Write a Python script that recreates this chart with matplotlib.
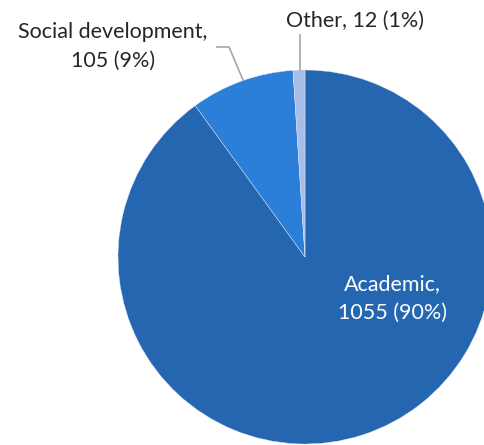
import matplotlib.pyplot as plt

# ---- data ----
categories = ['Academic', 'Social development', 'Other']
counts = [1055, 105, 12]
colors = ['#2466b0', '#2b7fd8', '#a9bee7']

total = sum(counts)
labels = ['%s, %d (%d%%)' % (c, v, round(100.0 * v / total)) for c, v in zip(categories, counts)]

fig = plt.figure(figsize=(4.84, 4.45), dpi=100)
ax = fig.add_axes([0, 0, 1, 1])

# ---- pie (pixel-like coords, y up) ----
ax.pie(counts, colors=colors, startangle=90, counterclock=False,
       center=(305, 188), radius=187,
       wedgeprops=dict(edgecolor='#dfe8f5', linewidth=0.3))
ax.set_xlim(0, 484)
ax.set_ylim(0, 445)
ax.set_aspect('equal')
ax.axis('off')

fnt = dict(family='Lato', fontsize=15.5)

# academic label inside the slice
name, rest = labels[0].split(', ')
ax.text(392, 147, name + ',\n' + rest, color='white', ha='center', va='center',
        linespacing=1.55, **fnt)

# social development label + leader line
name, rest = labels[1].split(', ')
ax.text(113, 399, name + ',\n' + rest, color='#262626', ha='center', va='center',
        linespacing=1.55, **fnt)
ax.plot([217, 229, 243], [398, 398, 365], color='#a6a6a6', lw=1.2)

# other label + leader line
ax.text(355, 424, labels[2], color='#262626', ha='center', va='center', **fnt)
ax.plot([300, 300], [410, 375], color='#a6a6a6', lw=1.2)

fig.savefig('out.png', dpi=100)
